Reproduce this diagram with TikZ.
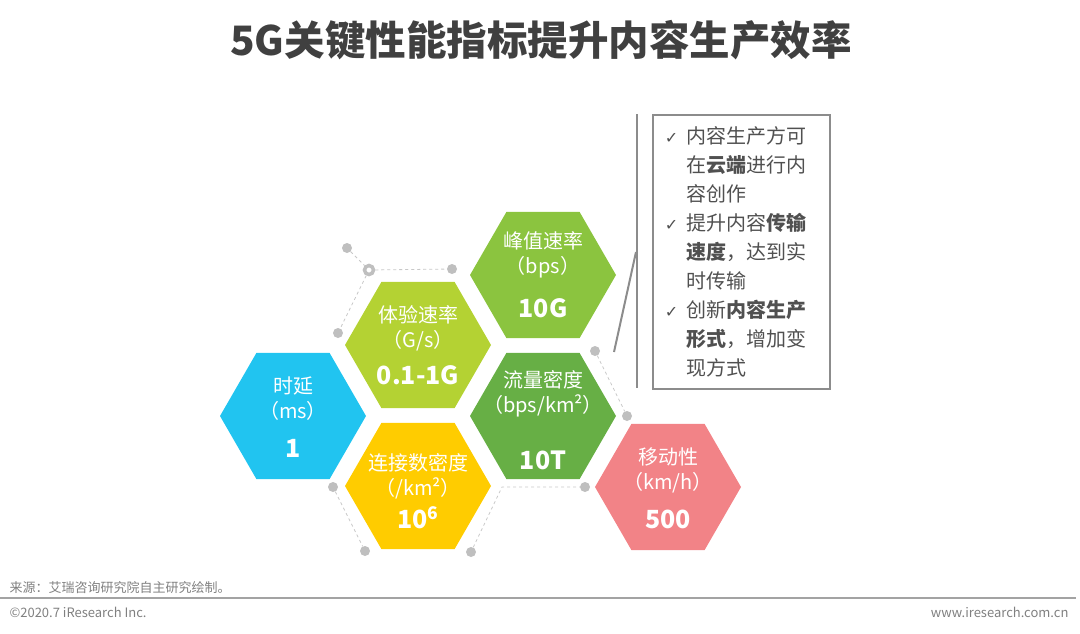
\documentclass[tikz,border=0pt]{standalone}
\usepackage{fontspec}
\setmainfont{Noto Sans CJK SC}
\newfontfamily\symfont{DejaVu Sans}
\usetikzlibrary{shapes.geometric}
\definecolor{delay}{HTML}{21C4F0}
\definecolor{exper}{HTML}{B4D233}
\definecolor{conn}{HTML}{FFCC00}
\definecolor{peak}{HTML}{8BC43F}
\definecolor{flow}{HTML}{67AF45}
\definecolor{mobil}{HTML}{F28387}
\definecolor{dotgray}{HTML}{BFBFBF}
\definecolor{linegray}{HTML}{C8C8C8}
\definecolor{boxgray}{HTML}{8C8C8C}
\definecolor{textgray}{HTML}{505050}
\definecolor{titlegray}{HTML}{404040}
\definecolor{footgray}{HTML}{808080}
\newcommand{\valfont}{\fontsize{25}{30}\selectfont\bfseries}
\newcommand{\chk}{\makebox[22pt][l]{\fontsize{16}{20}\symfont ✓}}
\newcommand{\ind}{\hspace*{22pt}}

\begin{document}
\begin{tikzpicture}[x=1pt,y=-1pt,
  hexa/.style={regular polygon,regular polygon sides=6,minimum size=146pt,inner sep=0pt},
  hextext/.style={text=white,align=center,font=\fontsize{20}{25}\selectfont},
  dot/.style={circle,fill=dotgray,inner sep=0pt,minimum size=10pt},
  ringdot/.style={circle,draw=dotgray,fill=white,line width=3.5pt,inner sep=0pt,minimum size=9pt},
  link/.style={dashed,draw=linegray,line width=0.8pt},
  bar/.style={draw=boxgray,line width=2pt},
  infobox/.style={draw=boxgray,line width=1.5pt,anchor=north west,minimum height=274pt,
    inner xsep=12pt,text width=153pt,align=left,text=textgray,font=\fontsize{20}{29}\selectfont}]
  \useasboundingbox (0,0) rectangle (1080,633);

  % title
  \node[font=\fontsize{40.5}{48}\selectfont\bfseries,text=titlegray] (title) at (541,40) {5G关键性能指标提升内容生产效率};

  % hexagons
  \node[hexa,fill=delay] (delayhex) at (293,416) {};
  \node[hexa,fill=exper] (experhex) at (418,345) {};
  \node[hexa,fill=conn] (connhex) at (418,486) {};
  \node[hexa,fill=peak] (peakhex) at (543,275) {};
  \node[hexa,fill=flow] (flowhex) at (543,416) {};
  \node[hexa,fill=mobil] (mobilhex) at (668,487) {};

  % hexagon texts
  \node[hextext,yshift=-1pt] at (delayhex) {时延\\（ms）\\[14pt]{\valfont 1}};
  \node[hextext] at (experhex) {体验速率\\（G/s）\\[12pt]{\valfont 0.1-1G}};
  \node[hextext,yshift=-5pt] at (connhex) {连接数密度\\（/km²）\\[7pt]{\valfont 10\textsuperscript{6}}};
  \node[hextext] at (peakhex) {峰值速率\\（bps）\\[19pt]{\valfont 10G}};
  \node[hextext,yshift=-4pt] at (flowhex) {流量密度\\（bps/km²）\\[32pt]{\valfont 10T}};
  \node[hextext,yshift=-1pt] at (mobilhex) {移动性\\（km/h）\\[14pt]{\valfont 500}};

  % dotted outline
  \node[dot] (d1) at (347,248) {};
  \node[ringdot] (d2) at (369,270) {};
  \node[dot] (d3) at (452,269) {};
  \node[dot] (d4) at (338,333) {};
  \node[dot] (d5) at (333,487) {};
  \node[dot] (d6) at (365,551) {};
  \node[dot] (d7) at (471,552) {};
  \coordinate (c1) at (502,487);
  \node[dot] (d8) at (585,487) {};
  \node[dot] (d9) at (595,351) {};
  \node[dot] (d10) at (627,416) {};
  \draw[link] (d1) -- (d2);
  \draw[link] (d2) -- (d3);
  \draw[link] (d2) -- (d4);
  \draw[link] (d5) -- (d6);
  \draw[link] (d7) -- (c1) -- (d8);
  \draw[link] (d9) -- (d10);

  % bracket lines
  \coordinate (bartop) at (637,114);
  \coordinate (barbot) at (637,388);
  \coordinate (slanttop) at (636,252);
  \coordinate (slantbot) at (614,352);
  \draw[bar] (bartop) -- (barbot);
  \draw[bar] (slanttop) -- (slantbot);

  % notes box
  \node[infobox] (notes) at (652,114) {%
    \chk 内容生产方可\\
    \ind 在\textbf{云端}进行内\\
    \ind 容创作\\
    \chk 提升内容\textbf{传输}\\
    \ind \textbf{速度}，达到实\\
    \ind 时传输\\
    \chk 创新\textbf{内容生产}\\
    \ind \textbf{形式}，增加变\\
    \ind 现方式};

  % footer
  \node[anchor=west,font=\fontsize{13}{15}\selectfont,text=footgray] (source) at (6,588) {来源：艾瑞咨询研究院自主研究绘制。};
  \draw[draw=boxgray!80,line width=2.5pt] (0,598) -- (1076,598);
  \node[anchor=west,font=\fontsize{13}{15}\selectfont,text=footgray] (copy) at (6,612) {©2020.7 iResearch Inc.};
  \node[anchor=east,font=\fontsize{13}{15}\selectfont,text=footgray] (web) at (1072,612) {www.iresearch.com.cn};
\end{tikzpicture}
\end{document}
